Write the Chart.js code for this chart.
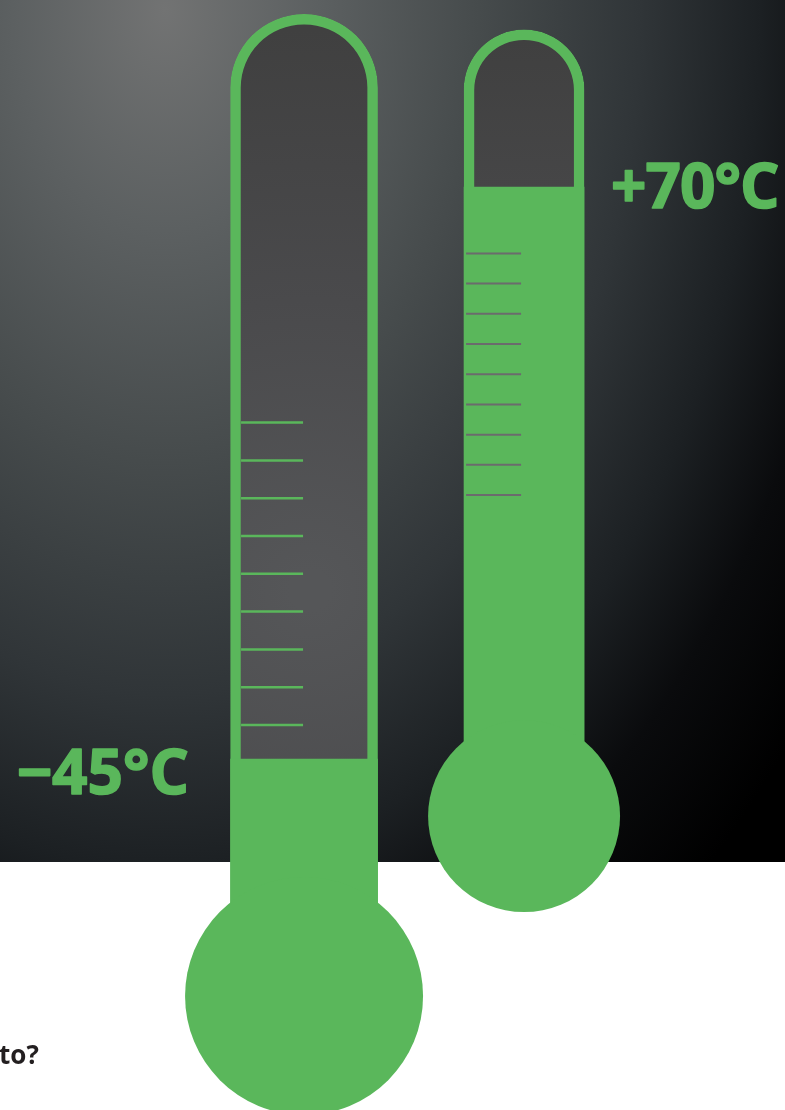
<!DOCTYPE html>
<html>
<head>
<meta charset="utf-8">
<script src="https://cdn.jsdelivr.net/npm/chart.js@4"></script>
<style>
  html, body { margin: 0; padding: 0; background: #fff; overflow: hidden; }
  #page { position: relative; width: 785px; height: 1110px; overflow: hidden; }
  #backdrop {
    position: absolute; left: 0; top: 0; width: 785px; height: 862px;
    background: radial-gradient(ellipse 805px 1160px at 165px 10px,
      #727373 0%, #5c6061 19%, #464b4c 39%, #303538 59%, #1c2023 74%, #0a0b0d 86%, #000 100%);
  }
  #chart { position: absolute; left: 0; top: 0; }
  #question {
    position: absolute; left: -1px; top: 1036px;
    font: bold 26px "Open Sans", sans-serif; color: #231f20;
  }
</style>
</head>
<body>
<div id="page">
  <div id="backdrop"></div>
  <canvas id="chart" width="785" height="1110"></canvas>
  <div id="question">to?</div>
</div>
<script>
// temperatures shown on the two thermometers
const thermometers = ['−45°C', '+70°C'];
const temperatures = [-45, 70];
// top of the glass and centre of the bulb, in degrees on each thermometer's own scale
const glassTop = [152, 122];
const bulbLevel = [-107.7, -138.3];
// scale marks
const marksCold = [-36, -26, -16, -6, 4, 14, 24, 34, 44];
const marksHot = [-32, -22, -12, -2, 8, 18, 28, 38, 48];

const GREEN = '#5ab75b';
const ctx = document.getElementById('chart').getContext('2d');

const coldGlass = ctx.createRadialGradient(310, 590, 20, 310, 590, 560);
coldGlass.addColorStop(0, '#555658');
coldGlass.addColorStop(0.5, '#4a4a4c');
coldGlass.addColorStop(1, '#404040');
const hotGlass = ctx.createLinearGradient(0, 40, 0, 187);
hotGlass.addColorStop(0, '#404040');
hotGlass.addColorStop(1, '#464647');

const thermometerLabels = {
  id: 'thermometerLabels',
  afterDatasetsDraw(chart) {
    const c = chart.ctx;
    c.save();
    c.font = '700 62px "Open Sans", sans-serif';
    c.fillStyle = GREEN;
    c.strokeStyle = GREEN;
    c.lineWidth = 1.6;
    c.lineJoin = 'round';
    const put = (text, x, y, align, spacing) => {
      c.textAlign = align;
      c.letterSpacing = spacing;
      c.strokeText(text, x, y);
      c.fillText(text, x, y);
    };
    put(thermometers[0], chart.scales.x.getPixelForValue(0) - 115, chart.scales.yCold.getPixelForValue(temperatures[0]) + 35, 'right', '0px');
    put(thermometers[1], chart.scales.x.getPixelForValue(1) + 87, chart.scales.yHot.getPixelForValue(temperatures[1]) + 21, 'left', '-1px');
    c.restore();
  }
};

new Chart(ctx, {
  type: 'bar',
  plugins: [thermometerLabels],
  data: {
    datasets: [
      // scale marks
      {
        type: 'scatter', yAxisID: 'yCold', order: 1,
        data: marksCold.map((m) => ({ x: -0.1455, y: m })),
        pointStyle: 'line', pointRadius: 31, pointBorderWidth: 2.5, pointBorderColor: GREEN,
      },
      {
        type: 'scatter', yAxisID: 'yHot', order: 1,
        data: marksHot.map((m) => ({ x: 1 - 0.1386, y: m })),
        pointStyle: 'line', pointRadius: 27.5, pointBorderWidth: 2, pointBorderColor: '#6b6b6d',
      },
      // bulbs
      {
        type: 'scatter', yAxisID: 'yCold', order: 2, clip: false,
        data: [{ x: 0, y: bulbLevel[0] }],
        pointRadius: 119, pointBackgroundColor: GREEN, pointBorderWidth: 0,
      },
      {
        type: 'scatter', yAxisID: 'yHot', order: 2, clip: false,
        data: [{ x: 1, y: bulbLevel[1] }],
        pointRadius: 96, pointBackgroundColor: GREEN, pointBorderWidth: 0,
      },
      // liquid
      {
        yAxisID: 'yCold', order: 3, grouped: false, barThickness: 147,
        data: [{ x: 0, y: [bulbLevel[0], temperatures[0]] }],
        backgroundColor: GREEN,
      },
      {
        yAxisID: 'yHot', order: 3, grouped: false, barThickness: 120,
        data: [{ x: 1, y: [bulbLevel[1], temperatures[1]] }],
        backgroundColor: GREEN,
      },
      // glass
      {
        yAxisID: 'yCold', order: 4, grouped: false, barThickness: 147,
        data: [{ x: 0, y: [bulbLevel[0], glassTop[0]] }],
        backgroundColor: coldGlass, borderColor: GREEN, borderWidth: 10.5, borderSkipped: false,
        borderRadius: { topLeft: 73.5, topRight: 73.5, bottomLeft: 0, bottomRight: 0 },
      },
      {
        yAxisID: 'yHot', order: 4, grouped: false, barThickness: 120,
        data: [{ x: 1, y: [bulbLevel[1], glassTop[1]] }],
        backgroundColor: hotGlass, borderColor: GREEN, borderWidth: 10.5, borderSkipped: false,
        borderRadius: { topLeft: 60, topRight: 60, bottomLeft: 0, bottomRight: 0 },
      },
    ],
  },
  options: {
    responsive: false,
    animation: false,
    events: [],
    layout: { padding: 0, autoPadding: false },
    plugins: { legend: { display: false }, tooltip: { enabled: false } },
    scales: {
      x: { type: 'linear', display: false, offset: false, min: -1.382, max: 2.186 },
      yCold: { type: 'linear', display: false, min: -137.86, max: 155.8 },
      yHot: { type: 'linear', display: false, min: -235.6, max: 131.9 },
    },
  },
});
</script>
</body>
</html>
